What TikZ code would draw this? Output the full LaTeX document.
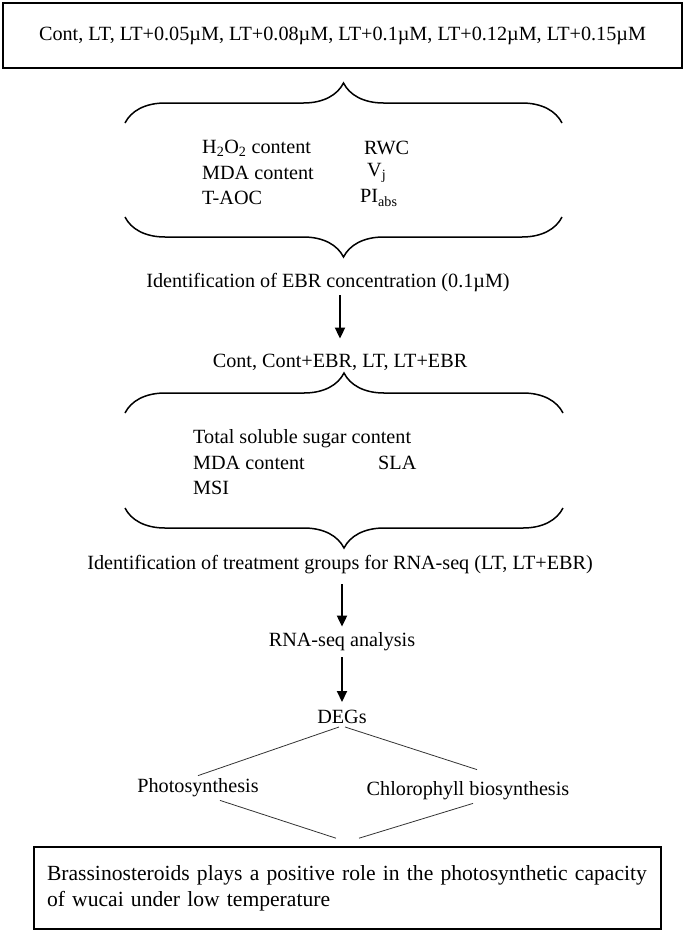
\documentclass[tikz,border=0pt]{standalone}
\usepackage{fontspec}
\setmainfont{Liberation Serif}
\usetikzlibrary{arrows.meta,decorations.pathreplacing}

\begin{document}
\begin{tikzpicture}
[
  x=1pt, y=-1pt,
  every node/.style={font=\fontsize{20.2}{26}\selectfont, inner sep=3pt},
  box/.style={draw, line width=1.6pt},
  flow/.style={-{Triangle[length=11pt,width=10pt]}, line width=1.9pt},
  curly/.style={decorate, decoration={brace, amplitude=40pt}, line width=1.5pt},
  link/.style={line width=0.8pt, black!80},
  item/.style={anchor=west},
]
\useasboundingbox (0,0) rectangle (685,932);

% screening of concentrations
\node[box, minimum width=679pt, minimum height=65pt] (dose) at (342.5,35.5)
  {Cont, LT, LT+0.05µM, LT+0.08µM, LT+0.1µM, LT+0.12µM, LT+0.15µM};

\draw[curly] (125,123) -- (562,123);
\node[item] (hoo) at (199,148) {H\textsubscript{2}O\textsubscript{2} content};
\node[item] (mdaa) at (199,173) {MDA content};
\node[item] (taoc) at (199,198) {T-AOC};
\node[item] (rwc) at (361,148) {RWC};
\node[item] (vj) at (364,173) {V\textsubscript{j}};
\node[item] (piabs) at (357,198) {PI\textsubscript{abs}};
\draw[curly] (562,217) -- (125,217);

\node (ebr) at (328,283) {Identification of EBR concentration (0.1µM)};
\node (treat) at (340,362) {Cont, Cont+EBR, LT, LT+EBR};
\draw[flow, shorten >=12pt] (ebr.south -| 340,0) -- (treat.north -| 340,0);

% physiological indices
\draw[curly] (125,413) -- (563,413);
\node[item] (sugar) at (190,439) {Total soluble sugar content};
\node[item] (mdab) at (190,463) {MDA content};
\node[item] (msi) at (190,488) {MSI};
\node[item] (sla) at (375,463) {SLA};
\draw[curly] (563,508) -- (125,508);

\node (groups) at (340,565) {Identification of treatment groups for RNA-seq (LT, LT+EBR)};
\node (rnaseq) at (342,642) {RNA-seq analysis};
\node (degs) at (342,717) {DEGs};
\draw[flow, shorten <=7pt, shorten >=3pt] (groups.south -| rnaseq) -- (rnaseq);
\draw[flow, shorten <=3pt, shorten >=5pt] (rnaseq) -- (degs);

% pathways
\node (photo) at (198,788) {Photosynthesis};
\node (chl) at (468,791) {Chlorophyll biosynthesis};
\node[box, minimum width=627pt, minimum height=82pt, text width=601pt,
  inner xsep=13pt, align=left, font=\fontsize{21.6}{26}\selectfont] (concl) at (347.5,888)
  {Brassinosteroids plays a positive role in the photosynthetic capacity\\
   of wucai under low temperature};

\draw[link] ([xshift=-3pt]degs.south) -- (photo.north);
\draw[link] ([xshift=3pt]degs.south) -- ([xshift=9pt,yshift=9pt]chl.north);
\draw[link] ([xshift=22pt]photo.south) -- ([xshift=-11.5pt,yshift=8pt]concl.north);
\draw[link] ([xshift=5pt]chl.south) -- ([xshift=11.5pt,yshift=8pt]concl.north);

\end{tikzpicture}
\end{document}
